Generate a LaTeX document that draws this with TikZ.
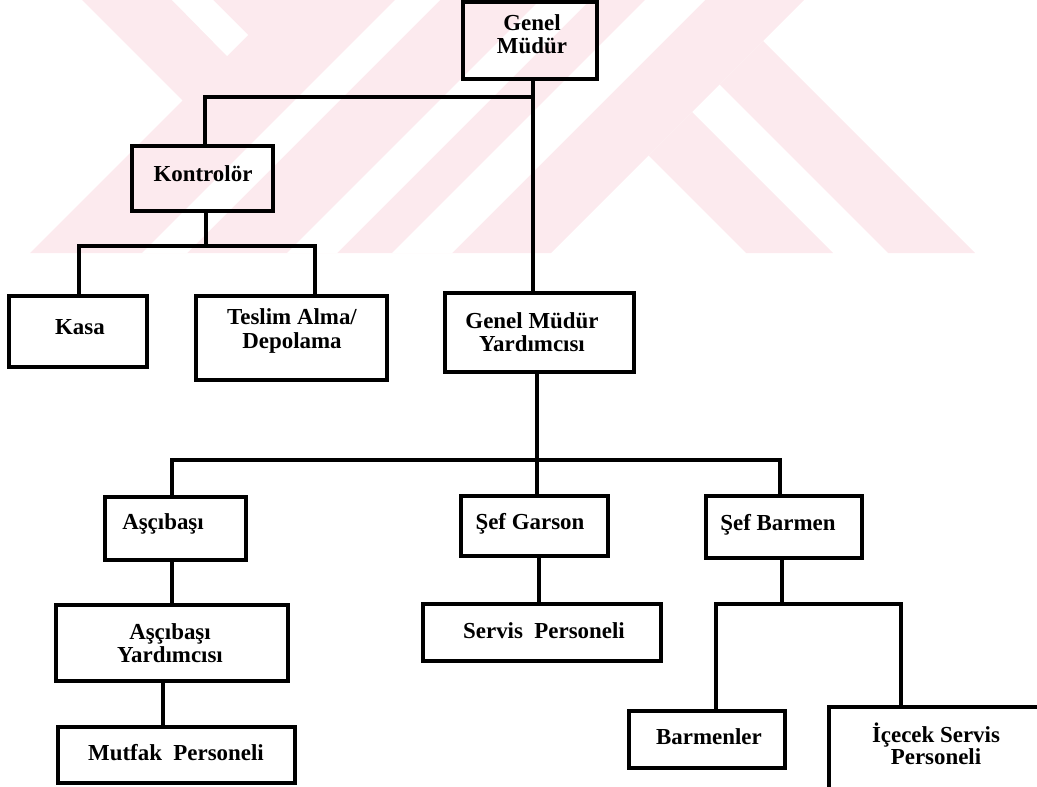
\documentclass[tikz,border=0pt]{standalone}
\usepackage{fontspec}
\setmainfont{Liberation Serif}
\definecolor{emblempink}{RGB}{252,234,238}
\begin{document}
\begin{tikzpicture}[x=1bp,y=-1bp,
  box/.style 2 args={draw=black,line width=3.2bp,inner sep=0pt,
    minimum width=#1,minimum height=#2},
  lbl/.style={inner sep=0pt,align=center,
    font=\fontsize{23}{23.5}\selectfont\bfseries},
  link/.style={draw=black,line width=3.2bp}]
\useasboundingbox (0,0) rectangle (1037,787);
\clip (0,0) rectangle (1037,787);

% background emblem, built from 45-degree bands
\begin{scope}
  \clip (0,0) rectangle (1037,253);
  \fill[emblempink] (82,0) -- (182.5,100.5) -- (30,253) -- (551,253) -- (804,0) -- cycle;
  \fill[emblempink] (648.5,155.5) -- (692,112) -- (833,253) -- (746,253) -- cycle;
  \fill[emblempink] (719.5,84.5) -- (763,41) -- (975,253) -- (888,253) -- cycle;
  \fill[white] (172,0) -- (213,0) -- (248,35) -- (227,56) -- cycle;
  \fill[white] (395,0) -- (440,0) -- (187,253) -- (142,253) -- cycle;
  \fill[white] (540,0) -- (590,0) -- (337,253) -- (287,253) -- cycle;
  \fill[white] (645,0) -- (705,0) -- (452,253) -- (392,253) -- cycle;
\end{scope}

% boxes
\node[box={134bp}{77bp}]  (gm)   at (530,40.5)  {};
\node[box={141bp}{65bp}]  (kon)  at (202.5,178.5) {};
\node[box={138bp}{71bp}]  (kasa) at (78,331.5)  {};
\node[box={191bp}{84bp}]  (tes)  at (291.5,338) {};
\node[box={189bp}{79bp}]  (gmy)  at (539.5,332.5) {};
\node[box={141bp}{63bp}]  (asc)  at (175.5,528.5) {};
\node[box={147bp}{60bp}]  (sg)   at (534.5,526) {};
\node[box={156bp}{62bp}]  (sb)   at (784,527) {};
\node[box={232bp}{76bp}]  (ay)   at (172,643) {};
\node[box={238bp}{57bp}]  (sp)   at (542,632.5) {};
\node[box={237bp}{56bp}]  (mp)   at (176.5,755) {};
\node[box={156bp}{57bp}]  (bm)   at (707,739.5) {};
\node[box={221bp}{93bp}]  (ic)   at (939.5,753.5) {};

% labels
\node[lbl] (gmt)   at (532,34)  {Genel\\Müdür};
\node[lbl] (kont)  at (203,174) {Kontrolör};
\node[lbl] (kasat) at (80,327)  {Kasa};
\node[lbl] (test)  at (292,331) {Teslim Alma/\\Depolama};
\node[lbl] (gmyt)  at (532,332) {Genel Müdür\\Yardımcısı};
\node[lbl] (asct)  at (163,524) {Aşçıbaşı};
\node[lbl] (sgt)   at (530,524) {Şef Garson};
\node[lbl] (sbt)   at (778,525) {Şef Barmen};
\node[lbl] (ayt)   at (170,643) {Aşçıbaşı\\Yardımcısı};
\node[lbl] (spt)   at (544,631) {Servis\ \ Personeli};
\node[lbl] (mpt)   at (176,753) {Mutfak\ \ Personeli};
\node[lbl] (bmt)   at (709,737) {Barmenler};
\node[lbl,font=\fontsize{23}{20}\selectfont\bfseries] (ict) at (936,744) {İçecek Servis\\Personeli};

% junction points of the connectors
\coordinate (jm) at (533,97);
\coordinate (jk) at (205,97);
\coordinate (kb) at (206,246);
\coordinate (kl) at (79,246);
\coordinate (kr) at (315,246);
\coordinate (gb) at (537,460);
\coordinate (al) at (172,460);
\coordinate (ar) at (780,460);
\coordinate (ax) at (163,700);
\coordinate (sx) at (539,580);
\coordinate (bb) at (782,604);
\coordinate (bl) at (716,604);
\coordinate (br) at (901,604);

% connectors
\draw[link] (jm |- gm.south) -- (jm |- gmy.north);
\draw[link] (jm) -- (jk) -- (jk |- kon.north);
\draw[link] (kb |- kon.south) -- (kb);
\draw[link] (kl |- kasa.north) -- (kl) -- (kr) -- (kr |- tes.north);
\draw[link] (gb |- gmy.south) -- (gb |- sg.north);
\draw[link] (al |- asc.north) -- (al) -- (ar) -- (ar |- sb.north);
\draw[link] (al |- asc.south) -- (al |- ay.north);
\draw[link] (ax |- ay.south) -- (ax |- mp.north);
\draw[link] (sx |- sg.south) -- (sx |- sp.north);
\draw[link] (bb |- sb.south) -- (bb);
\draw[link] (bl |- bm.north) -- (bl) -- (br) -- (br |- ic.north);
\end{tikzpicture}
\end{document}
